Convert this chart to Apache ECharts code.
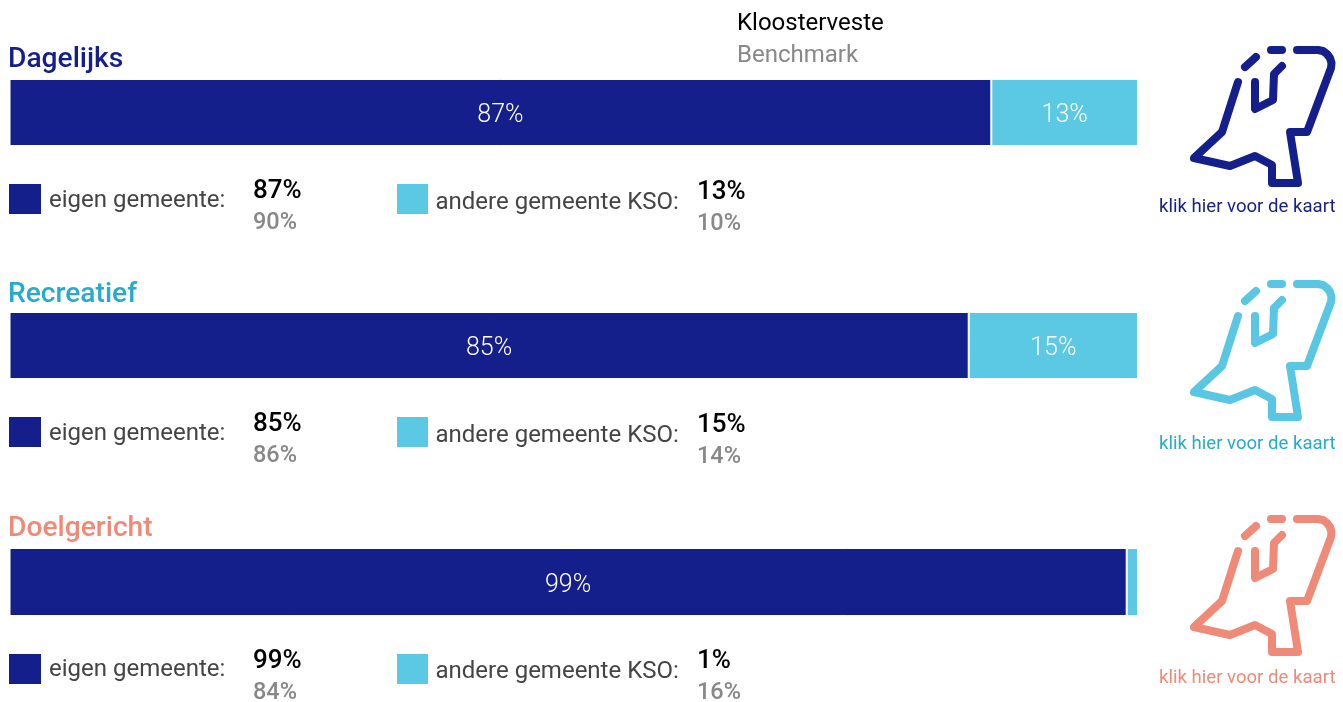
<!DOCTYPE html>
<html><head><meta charset="utf-8">
<style>html,body{margin:0;padding:0;background:#fff}#c{width:1343px;height:702px}</style>
<script src="https://cdn.jsdelivr.net/npm/echarts@6/dist/echarts.min.js"></script>
</head><body><div id="c"></div>
<script>
const titles = ['Dagelijks', 'Recreatief', 'Doelgericht'];
const titleColors = ['#151f8b', '#26abcb', '#f08a78'];
const iconColors = ['#151f8b', '#59c7e3', '#f08a78'];
const ownShare = [87, 85, 99];
const otherShare = [13, 15, 1];
const ownBenchmark = [90, 86, 84];
const otherBenchmark = [10, 14, 16];
const ownLabel = 'eigen gemeente:';
const otherLabel = 'andere gemeente KSO:';
const linkLabel = 'klik hier voor de kaart';
const legendNames = ['Kloosterveste', 'Benchmark'];

const DARK = '#151f8b', LIGHT = '#5bc8e4';
const barTop = [79, 312, 548], barH = [67, 67, 68], labelDy = [3, 3, 4];
const titleY = [60, 295, 529];
const ownSwatchY = [184, 417, 654], otherSwatchY = [184, 417, 654];
const ownTextY = [201, 434, 670], otherTextY = [203, 436, 672];
const ownValY = [191, 424, 661], ownBenchY = [223, 456, 693];
const otherValY = [192, 425, 661], otherBenchY = [224, 457, 693];
const iconDy = [0, 234, 469], linkY = [207, 444, 678];

const FONT = 'Roboto';
const txt = (x, y, text, size, fill, weight) => ({
  type: 'text', x, y, silent: true,
  style: { text, fontFamily: FONT, fontSize: size, fontWeight: weight || 400, fill, verticalAlign: 'middle' }
});
const iconLines = [
  [[147,20],[168,20],[173,21],[177,24],[180,28],[181.5,33],[181,38],[157,102],[140,102],[148,153],[122,153],[122,135],[105,126],[80,136],[44,128],[72,102],[88,52]],
  [[95,37],[106,27]],
  [[121,20],[132,20]],
  [[132,36],[124,44],[123,70],[105,79],[105,52]]
];

const grids = [], xAxes = [], yAxes = [], series = [], gfx = [];
titles.forEach((t, i) => {
  grids.push({ left: 9.5, width: 1128.5, top: barTop[i], height: barH[i] });
  xAxes.push({ gridIndex: i, type: 'value', min: 0, max: 100, show: false });
  yAxes.push({ gridIndex: i, type: 'category', data: [t], show: false });
  const mk = (name, val, color) => ({
    type: 'bar', name, xAxisIndex: i, yAxisIndex: i, stack: 's' + i, barWidth: '100%',
    data: [val], silent: true, animation: false,
    itemStyle: { color, borderColor: '#fff', borderWidth: 1 },
    label: {
      show: val >= 5, position: 'inside', formatter: '{c}%', color: '#fff',
      fontFamily: FONT, fontWeight: 300, fontSize: 25, offset: [0, labelDy[i]]
    }
  });
  series.push(mk('eigen gemeente', ownShare[i], DARK));
  series.push(mk('andere gemeente KSO', otherShare[i], LIGHT));

  gfx.push(txt(8, titleY[i], t, 28.2, titleColors[i], 500));
  gfx.push({ type: 'rect', silent: true, shape: { x: 9, y: ownSwatchY[i], width: 32, height: 30 }, style: { fill: DARK } });
  gfx.push({ type: 'rect', silent: true, shape: { x: 397, y: otherSwatchY[i], width: 31, height: 30 }, style: { fill: LIGHT } });
  gfx.push(txt(49, ownTextY[i], ownLabel, 24, '#444444'));
  gfx.push(txt(435.5, otherTextY[i], otherLabel, 24, '#444444'));
  gfx.push(txt(253, ownValY[i], ownShare[i] + '%', 26, '#000000', 500));
  gfx.push(txt(253, ownBenchY[i], ownBenchmark[i] + '%', 23.5, '#888888', 500));
  gfx.push(txt(697, otherValY[i], otherShare[i] + '%', 26, '#000000', 500));
  gfx.push(txt(697, otherBenchY[i], otherBenchmark[i] + '%', 23.5, '#888888', 500));
  iconLines.forEach(points => gfx.push({
    type: 'polyline', silent: true, x: 1150, y: 30 + iconDy[i],
    shape: { points },
    style: { fill: 'none', stroke: iconColors[i], lineWidth: 8, lineCap: 'round', lineJoin: 'round' }
  }));
  gfx.push(txt(1159, linkY[i], linkLabel, 18.6, titleColors[i]));
});
gfx.push(txt(737, 24, legendNames[0], 24, '#000000'));
gfx.push(txt(737, 56, legendNames[1], 24, '#888888'));

const chart = echarts.init(document.getElementById('c'), null, { width: 1343, height: 702 });
chart.setOption({
  animation: false, backgroundColor: '#fff',
  grid: grids, xAxis: xAxes, yAxis: yAxes, series, graphic: { elements: gfx }
});
</script></body></html>
